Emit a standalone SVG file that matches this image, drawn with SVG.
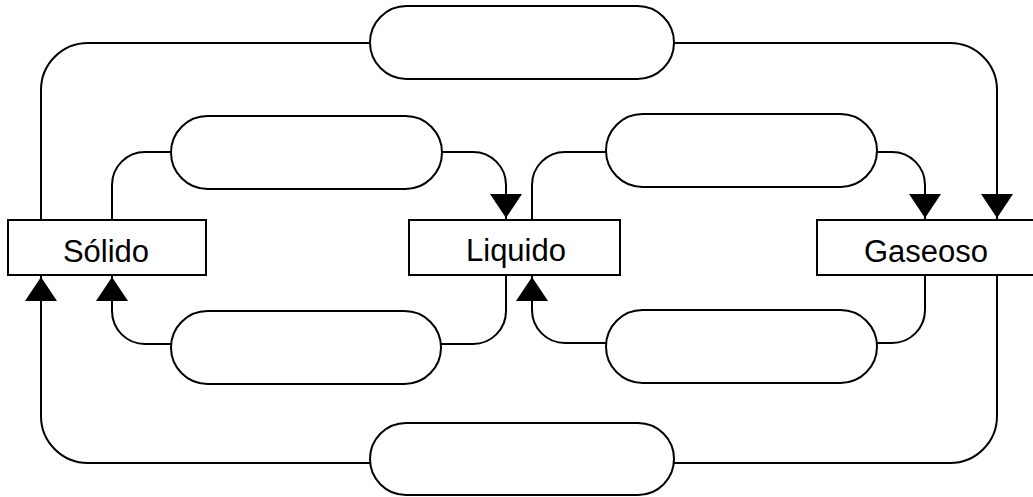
<svg xmlns="http://www.w3.org/2000/svg" width="1033" height="497" viewBox="0 0 1033 497">
<style>
.box{fill:#fff;stroke:#000;stroke-width:2}
.pill{fill:#fff;stroke:#000;stroke-width:2}
.lbl{font-family:"Liberation Sans",Arial,sans-serif;font-size:31px;fill:#000;text-anchor:middle}
.c{fill:none;stroke:#000;stroke-width:2}
.a{marker-end:url(#arr)}
</style>
<defs>
<marker id="arr" markerUnits="userSpaceOnUse" markerWidth="28" markerHeight="34" refX="26" refY="16" orient="auto" viewBox="0 0 28 32">
<path d="M0,0 L24,16 L0,32 Z" fill="#000"/>
</marker>
</defs>
<rect width="1033" height="497" fill="#fff"/>
<g id="connectors">
<path class="c" d="M41,220 V90 A47,47 0 0 1 88,43 H370"/>
<path class="c a" d="M674,43 H950 A47,47 0 0 1 997,90 V220"/>
<path class="c" d="M112,220 V185 A33,33 0 0 1 145,152 H171"/>
<path class="c a" d="M442,152 H473 A33,33 0 0 1 506,185 V220"/>
<path class="c" d="M532,220 V185 A33,33 0 0 1 565,152 H606"/>
<path class="c a" d="M877,152 H892 A33,33 0 0 1 925,185 V220"/>
<path class="c" d="M925,275 V310 A33,33 0 0 1 892,343 H877"/>
<path class="c a" d="M606,343 H565 A33,33 0 0 1 532,310 V275"/>
<path class="c" d="M506,275 V311 A33,33 0 0 1 473,344 H441"/>
<path class="c a" d="M171,344 H145 A33,33 0 0 1 112,311 V275"/>
<path class="c" d="M997,275 V416 A47,47 0 0 1 950,463 H674"/>
<path class="c a" d="M370,463 H88 A47,47 0 0 1 41,416 V275"/>
</g>
<g id="pill-top"><rect class="pill" x="370" y="6" width="304" height="73" rx="36.5"/></g>
<g id="pill-top-left"><rect class="pill" x="171" y="116" width="271" height="73" rx="36.5"/></g>
<g id="pill-top-right"><rect class="pill" x="606" y="114" width="271" height="73" rx="36.5"/></g>
<g id="pill-bottom-left"><rect class="pill" x="171" y="311" width="270" height="73" rx="36.5"/></g>
<g id="pill-bottom-right"><rect class="pill" x="606" y="310" width="271" height="73" rx="36.5"/></g>
<g id="pill-bottom"><rect class="pill" x="370" y="423" width="304" height="72" rx="36"/></g>
<g id="solido"><rect class="box" x="8" y="220" width="198" height="55"/><text class="lbl" x="106" y="262">Sólido</text></g>
<g id="liquido"><rect class="box" x="409" y="220" width="211" height="55"/><text class="lbl" x="516" y="261">Liquido</text></g>
<g id="gaseoso"><rect class="box" x="817" y="220" width="220" height="55"/><text class="lbl" x="926" y="262">Gaseoso</text></g>
</svg>
